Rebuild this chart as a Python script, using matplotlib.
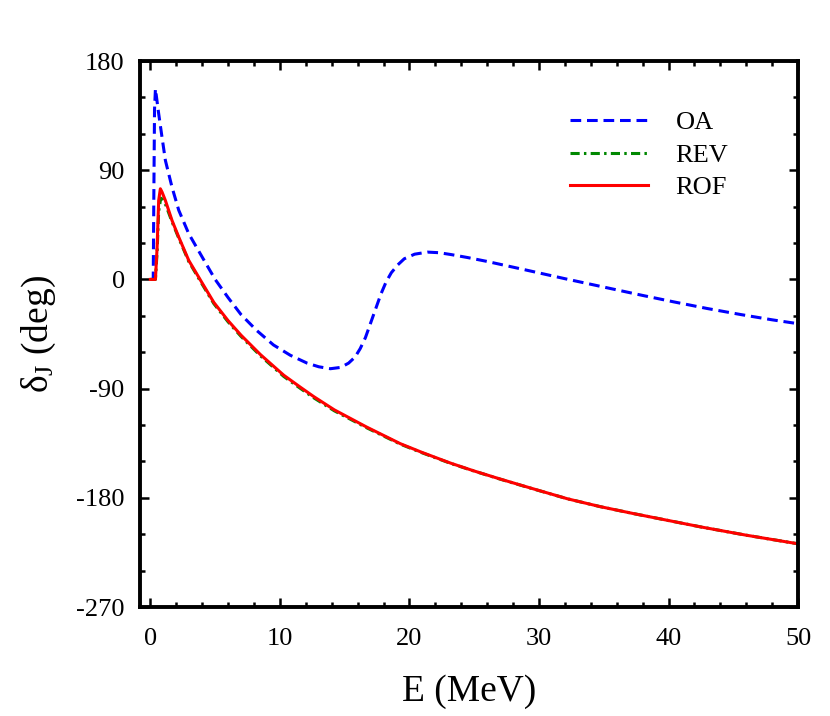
import numpy as np
import matplotlib
matplotlib.use("Agg")
import matplotlib.pyplot as plt
from matplotlib.ticker import MultipleLocator

plt.rcParams['font.family'] = ['Liberation Serif', 'DejaVu Serif']
plt.rcParams['mathtext.fontset'] = 'custom'
plt.rcParams['mathtext.rm'] = 'Liberation Serif'
plt.rcParams['mathtext.it'] = 'Liberation Serif:italic'
plt.rcParams['axes.unicode_minus'] = False

# OA curve
e_oa = [0, 0.22, 0.26, 0.32, 0.39, 0.64, 0.9, 1.16, 1.67, 2.19, 2.96, 4.0, 5.0,
        6.0, 7.0, 8.2, 9.5, 10.8, 12.1, 13.0, 13.9, 14.7, 15.3, 15.8, 16.2,
        16.6, 17.0, 17.4, 17.8, 18.2, 18.6, 19.1, 19.6, 20.4, 21.4, 22.3, 23.2,
        24.5, 26.0, 29.1, 32.0, 35.3, 38.0, 40.4, 43.0, 45.6, 48.0, 50.0]
d_oa = [0, 0, 60, 140, 157, 136.6, 117, 98, 76, 57, 37.7, 18.4, 0,
        -15, -29, -42, -54, -62.5, -69, -72, -73.6, -72.5, -69, -64, -57,
        -48, -36, -24, -12, -2, 5.5, 12, 17, 20.8, 22.5, 22, 20.5,
        18, 14.8, 7.5, 0.6, -7, -13.2, -18.5, -24, -29, -33.3, -36.5]

# REV curve
e_rev = [0, 0.39, 0.52, 0.64, 0.8, 0.95, 1.2, 1.67, 2.19, 2.96, 4.0, 4.9, 6.0, 7.0,
         8.5, 10.3, 11.6, 12.6, 14.2, 16.7, 19.3, 21.0, 23.2, 25.0, 27.0, 29.5,
         32.2, 34.7, 37.3, 42.5, 46.0, 50]
d_rev = [0, 0, 23, 56, 67, 66, 61, 47.5, 34, 14.8, -4, -20, -35, -47,
         -63, -80, -90, -97.5, -108.3, -122.3, -135.8, -143, -151.7, -158, -164.6, -172.5,
         -180.8, -187.2, -193, -204, -210.8, -217.9]

# ROF curve
e_rof = [0, 0.39, 0.52, 0.64, 0.77, 0.9, 1.16, 1.67, 2.19, 2.96, 4.0, 4.9, 6.0, 7.0,
         8.5, 10.3, 11.6, 12.6, 14.2, 16.7, 19.3, 21.0, 23.2, 25.0, 27.0, 29.5,
         32.2, 34.7, 37.3, 42.5, 46.0, 50]
d_rof = [0, 0, 26.6, 65, 74.7, 72, 65, 48.6, 34.9, 15.7, -3, -19, -34, -46,
         -62, -79, -89, -96.5, -107.5, -121.7, -135.4, -142.7, -151.5, -157.9, -164.5, -172.4,
         -180.8, -187.2, -193, -204, -210.8, -217.9]

fig = plt.figure(figsize=(8.3, 7.16), dpi=100)
ax = fig.add_axes([0.1687, 0.1522, 0.7928, 0.7626])

ax.plot(e_oa, d_oa, color='blue', lw=2.2, ls=(0, (3.5, 1.9)), label='OA')
ax.plot(e_rev, d_rev, color='#008800', lw=2.2, ls=(0, (3, 1.4, 0.8, 1.4)), label='REV')
ax.plot(e_rof, d_rof, color='red', lw=2.2, label='ROF')

ax.set_xlim(-0.8, 50)
ax.set_ylim(-270, 180)
ax.xaxis.set_major_locator(MultipleLocator(10))
ax.xaxis.set_minor_locator(MultipleLocator(2))
ax.yaxis.set_major_locator(MultipleLocator(90))
ax.yaxis.set_minor_locator(MultipleLocator(30))
ax.tick_params(which='both', direction='in', top=True, right=True, width=1.8, labelsize=19)
ax.tick_params(which='major', length=6.5)
ax.tick_params(which='minor', length=3.6)
ax.tick_params(axis='x', which='major', pad=15)
ax.tick_params(axis='y', which='major', pad=11)
for s in ax.spines.values():
    s.set_linewidth(2.8)

ax.set_xlabel('E (MeV)', fontsize=27, labelpad=18)
ax.set_ylabel(r'$\mathregular{\delta_J}$ (deg)', fontsize=27, labelpad=13)

ax.legend(frameon=False, fontsize=19, handlelength=2.95, handletextpad=1.05,
          labelspacing=0.34, loc='upper right', bbox_to_anchor=(0.93, 0.952))

fig.savefig('out.png', dpi=100)
